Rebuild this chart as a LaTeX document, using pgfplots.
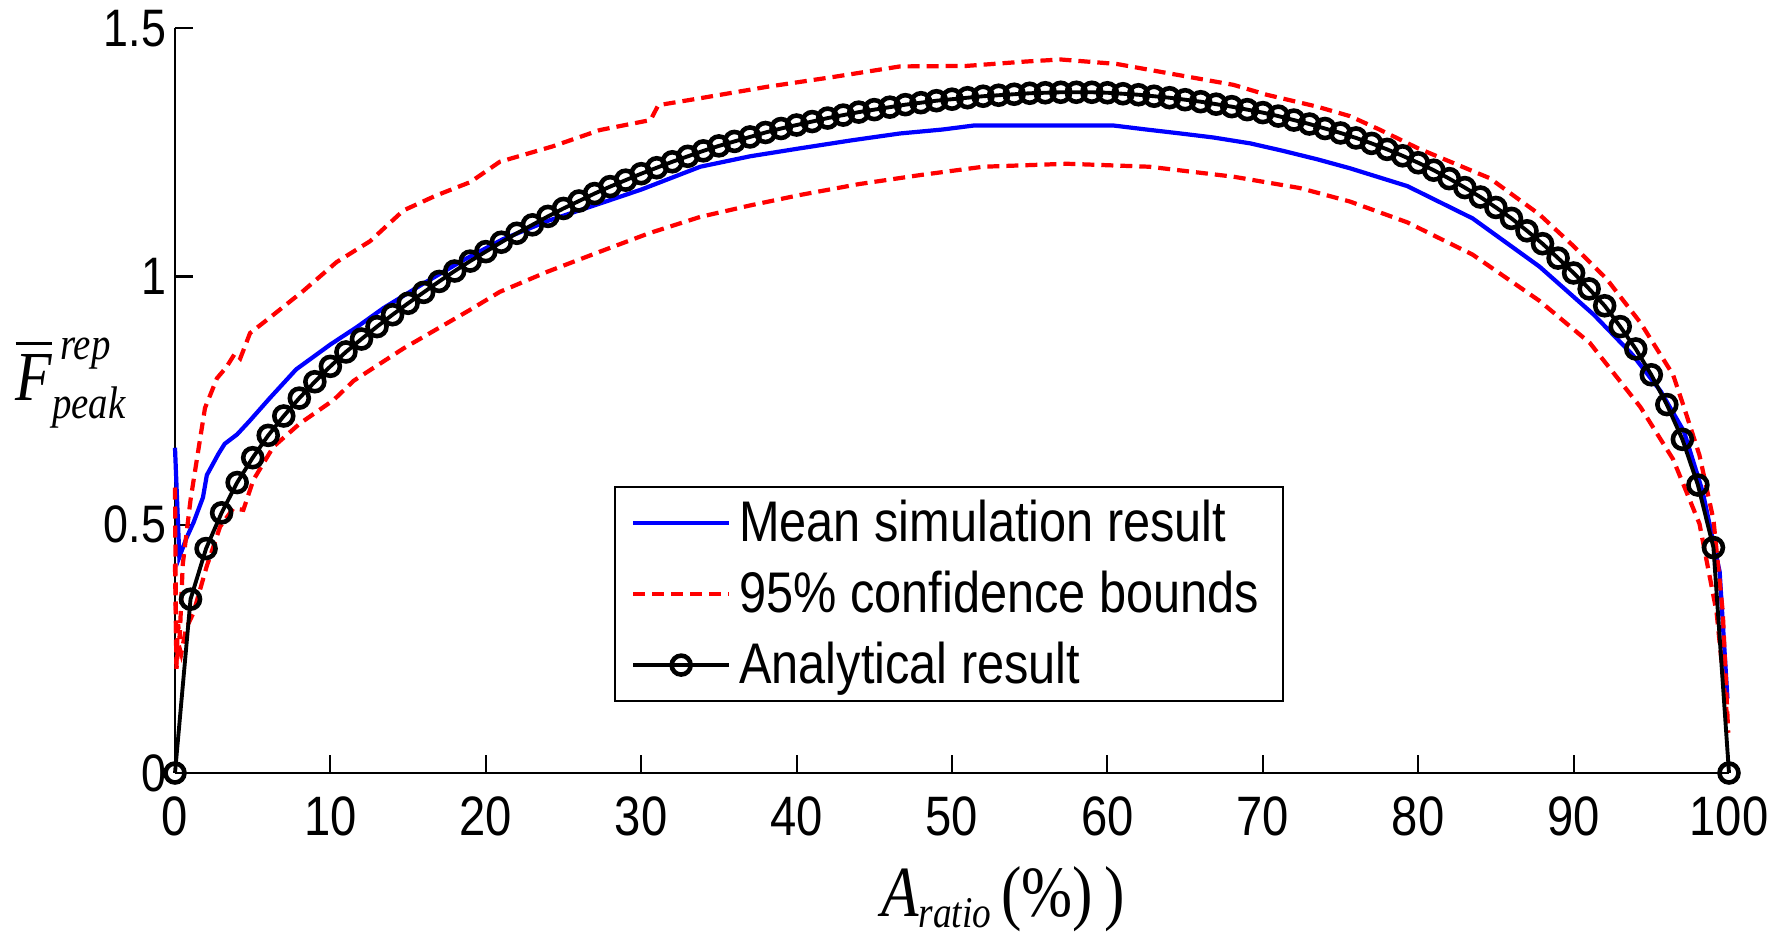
\documentclass[border=0pt]{standalone}
\usepackage{amsmath}
\usepackage{fontspec}
\setmainfont{Liberation Sans}[FakeStretch=0.85]
\newfontfamily\serif{Liberation Serif}[FakeStretch=0.85]
\usepackage{pgfplots}
\pgfplotsset{compat=1.18}
\begin{document}
\begin{tikzpicture}
\begin{axis}[
  scale only axis, width=155.4mm, height=74.48mm,
  xmin=0, xmax=100, ymin=0, ymax=1.5,
  axis lines*=left,
  axis line style={line width=0.6pt},
  tick align=inside,
  major tick length=1.8mm,
  tick style={black, line width=0.6pt},
  xtick={0,10,...,100}, ytick={0,0.5,1,1.5},
  yticklabels={0,0.5,1,1.5},
  /pgf/number format/assume math mode=true,
  xticklabel style={font=\fontsize{15.8}{16}\selectfont, inner sep=0pt, yshift=-2.3mm},
  yticklabel style={font=\fontsize{15}{16}\selectfont, inner sep=0pt, xshift=-0.8mm},
  clip=false,
  xlabel={{\serif\fontsize{20.5}{24}\selectfont\itshape A\raisebox{-1.1mm}{\fontsize{12.5}{12}\selectfont ratio}\hspace{1mm}\upshape(\%)\hspace{1.2mm})}},
  xlabel style={at={(axis description cs:0.533,0)}, anchor=base, yshift=-14.3mm, inner sep=0pt},
  ylabel={{\serif\itshape\fontsize{20}{22}\selectfont $\overline{\text{F}}^{\hspace{0.8mm}\text{\fontsize{13}{13}\selectfont rep}}_{\text{\fontsize{13}{13}\selectfont peak}}$}},
  ylabel style={rotate=-90, at={(axis description cs:-0.103,0.524)}, anchor=west, inner sep=0pt},
  legend cell align=left,
  legend style={at={(0.2825,0.3853)}, anchor=north west, draw=black, line width=0.6pt,
    inner xsep=1.6mm, inner ysep=0.8mm, row sep=1.5mm,
    font=\fontsize{16.3}{17}\selectfont,
    nodes={inner xsep=0.8mm, inner ysep=0.4mm, text height=4.2mm, text depth=0.6mm}},
  legend image code/.code={\draw[mark repeat=2,mark phase=2,#1] plot coordinates {(0mm,0mm) (4.8mm,0mm) (9.6mm,0mm)};},
]
% mean simulation result
\addplot[blue, line width=1.2pt] coordinates {
(0,0.655) (0.28,0.435) (0.75,0.474) (1.2,0.505) (1.8,0.555) (2.05,0.600)
(2.8,0.643) (3.2,0.663) (4.0,0.682) (4.8,0.709) (6.1,0.755) (7.8,0.813)
(10.0,0.863) (11.7,0.898) (13.4,0.936) (16.0,0.986) (18.5,1.032) (21.1,1.075)
(24,1.112) (27.35,1.147) (30,1.175) (33.8,1.221) (37,1.242) (40.2,1.258)
(43.5,1.274) (46.65,1.288) (49.4,1.296) (51.4,1.304) (60.4,1.304) (62.5,1.296)
(64.7,1.288) (66.8,1.280) (69.2,1.268) (71.3,1.253) (73.5,1.236) (75.6,1.218)
(79.3,1.182) (83.5,1.117) (87.8,1.020) (91.3,0.923) (93.8,0.842) (95.6,0.769)
(97.1,0.688) (98.3,0.567) (99.4,0.405) (99.9,0.150)
};
% upper bound
\addplot[red, line width=1.2pt, dash pattern=on 1.2mm off 0.7mm] coordinates {
(0,0.575) (0.08,0.22) (0.2,0.30) (0.3,0.27) (0.5,0.42) (1.0,0.55) (1.5,0.65)
(1.93,0.735) (2.7,0.795) (3.3,0.817) (3.86,0.845) (4.2,0.835) (4.83,0.886)
(6.1,0.917) (8.26,0.971) (10.4,1.029) (12.55,1.071) (14.7,1.133) (16.8,1.163)
(19.0,1.190) (20.9,1.231) (24.3,1.262) (27.35,1.295) (30.6,1.315) (31.1,1.345)
(33.8,1.359) (38.1,1.382) (42.4,1.402) (46.65,1.423) (50.9,1.424) (54.8,1.433)
(57,1.437) (60.6,1.428) (63.8,1.410) (68.1,1.386) (70.25,1.366) (73.5,1.342)
(75.6,1.323) (77.5,1.296) (80,1.258) (84.6,1.198) (87.8,1.125) (90,1.061)
(92.1,0.996) (94.3,0.907) (96.4,0.802) (97.1,0.737) (98.1,0.640) (99.0,0.510)
(99.6,0.324) (99.95,0.081)
};
% lower bound
\addplot[red, line width=1.2pt, dash pattern=on 1.2mm off 0.7mm, forget plot] coordinates {
(0,0.42) (0.1,0.21) (0.2,0.262) (0.4,0.24) (0.7,0.29) (1.18,0.322) (2.04,0.416)
(2.9,0.496) (3.75,0.533) (4.4,0.53) (5.04,0.590) (6.33,0.657) (8.04,0.704)
(10.2,0.751) (11.5,0.79) (14.7,0.855) (19,0.933) (20.9,0.969) (24,1.01)
(27.35,1.050) (30.5,1.087) (33.8,1.120) (37,1.143) (40.2,1.164) (44,1.186)
(47.9,1.204) (52,1.221) (57.4,1.227) (62.7,1.221) (68.1,1.201) (72.4,1.178)
(75.6,1.151) (79.3,1.109) (83.5,1.044) (87.8,0.951) (91.05,0.866) (94.3,0.737)
(96.4,0.632) (98.1,0.502) (99.2,0.324) (99.85,0.122)
};
% analytical result
\addplot[black, line width=1.1pt, mark=o, mark size=2.7pt, mark options={solid, line width=1.3pt}] table {
0 0
1 0.350
2 0.452
3 0.524
4 0.585
5 0.635
6 0.680
7 0.719
8 0.755
9 0.788
10 0.819
11 0.848
12 0.874
13 0.899
14 0.923
15 0.946
16 0.968
17 0.990
18 1.011
19 1.031
20 1.050
21 1.069
22 1.087
23 1.104
24 1.121
25 1.137
26 1.152
27 1.167
28 1.181
29 1.194
30 1.207
31 1.219
32 1.231
33 1.242
34 1.253
35 1.263
36 1.272
37 1.281
38 1.290
39 1.298
40 1.305
41 1.312
42 1.319
43 1.325
44 1.331
45 1.336
46 1.341
47 1.346
48 1.350
49 1.354
50 1.357
51 1.360
52 1.363
53 1.365
54 1.367
55 1.369
56 1.370
57 1.371
58 1.371
59 1.371
60 1.370
61 1.368
62 1.366
63 1.363
64 1.360
65 1.356
66 1.352
67 1.347
68 1.342
69 1.336
70 1.330
71 1.323
72 1.315
73 1.307
74 1.298
75 1.289
76 1.279
77 1.268
78 1.256
79 1.243
80 1.229
81 1.214
82 1.197
83 1.179
84 1.160
85 1.139
86 1.117
87 1.092
88 1.066
89 1.037
90 1.007
91 0.975
92 0.941
93 0.899
94 0.854
95 0.802
96 0.742
97 0.672
98 0.580
99 0.454
100 0
};
\legend{Mean simulation result, 95\% confidence bounds, Analytical result}
\end{axis}
\pgfresetboundingbox
\path[use as bounding box] (current axis.south west) ++(-17.5mm,-16.7mm) rectangle ++(178.3mm,94mm);
\end{tikzpicture}
\end{document}
